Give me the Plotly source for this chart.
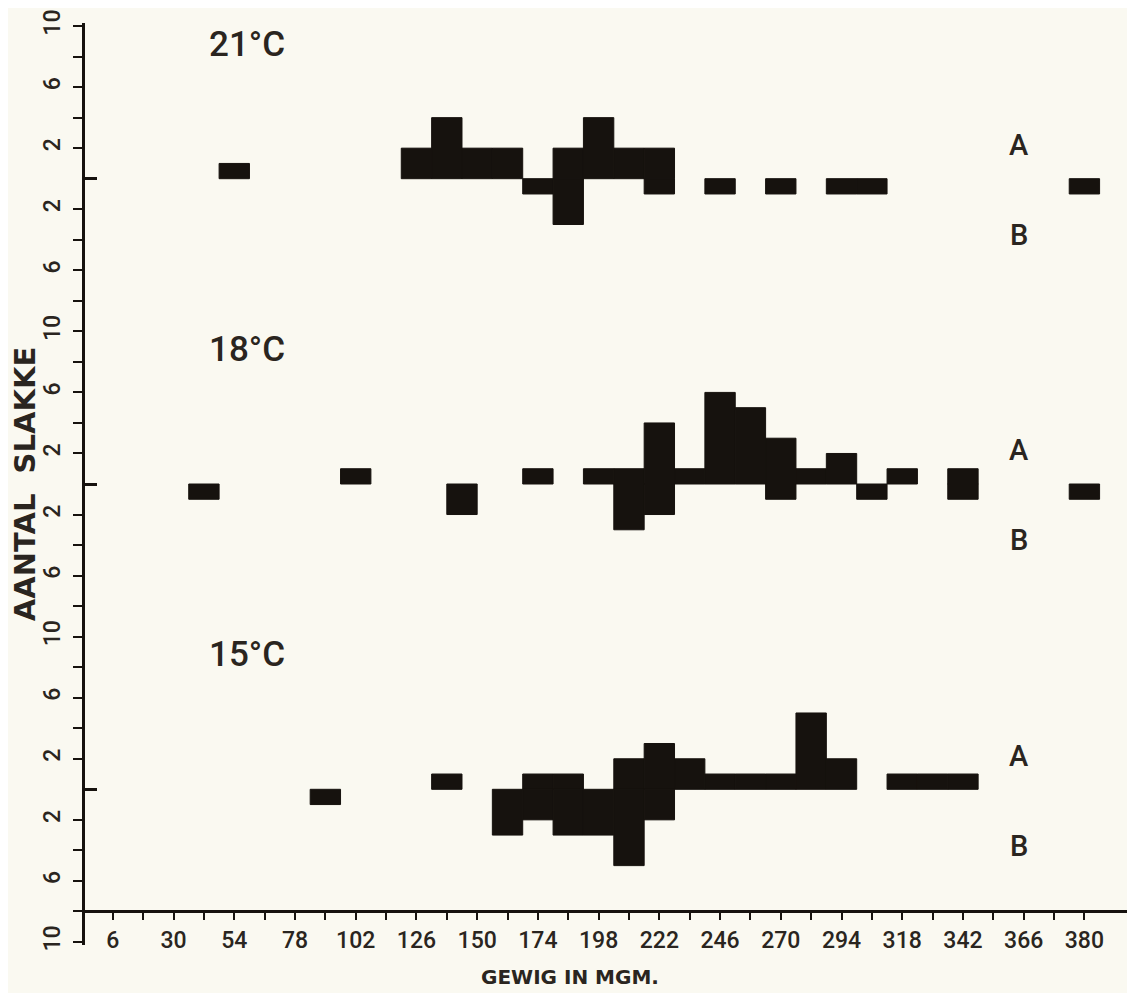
import plotly.graph_objects as go

# ---- data ----
# weight class centres (mg) and counts of snails above (A) and below (B) the baseline
t21_x = [54, 126, 138, 150, 162, 174, 186, 198, 210, 222, 246, 270, 294, 306, 390]
t21_A = [1, 2, 4, 2, 2, 0, 2, 4, 2, 2, 0, 0, 0, 0, 0]
t21_B = [0, 0, 0, 0, 0, 1, 3, 0, 0, 1, 1, 1, 1, 1, 1]

t18_x = [42, 102, 144, 174, 198, 210, 222, 234, 246, 258, 270, 282, 294, 306, 318, 342, 390]
t18_A = [0, 1, 0, 1, 1, 1, 4, 1, 6, 5, 3, 1, 2, 0, 1, 1, 0]
t18_B = [1, 0, 2, 0, 0, 3, 2, 0, 0, 0, 1, 0, 0, 1, 0, 1, 1]

t15_x = [90, 138, 162, 174, 186, 198, 210, 222, 234, 246, 258, 270, 282, 294, 318, 330, 342]
t15_A = [0, 1, 0, 1, 1, 0, 2, 3, 2, 1, 1, 1, 5, 2, 1, 1, 1]
t15_B = [1, 0, 3, 2, 3, 3, 5, 2, 0, 0, 0, 0, 0, 0, 0, 0, 0]

panel_names = ["21°C", "18°C", "15°C"]
panel_baselines = [40, 20, 0]

x_tick_vals = [6 + 12 * k for k in range(33)]
x_label_vals = [6, 30, 54, 78, 102, 126, 150, 174, 198, 222, 246, 270, 294, 318, 342, 366, 390]
x_label_text = ["6", "30", "54", "78", "102", "126", "150", "174", "198", "222",
                "246", "270", "294", "318", "342", "366", "380"]

y_label_levels = [2, 6, 10]

BG = "#FAF9F1"
INK = "#16120E"
TXT = "#2A2520"
FONT = "Roboto"
TITLE_FONT = "DejaVu Sans"
BIN_W = 12

fig = go.Figure()

panels = [(t21_x, t21_A, t21_B), (t18_x, t18_A, t18_B), (t15_x, t15_A, t15_B)]
for (xs, A, B), base, name in zip(panels, panel_baselines, panel_names):
    ax = [x for x, a in zip(xs, A) if a > 0]
    ay = [a for a in A if a > 0]
    bx = [x for x, b in zip(xs, B) if b > 0]
    by = [-b for b in B if b > 0]
    fig.add_trace(go.Bar(x=ax, y=ay, base=base, width=BIN_W, name=name + " A",
                         marker=dict(color=INK, line=dict(width=1, color=INK)), showlegend=False))
    fig.add_trace(go.Bar(x=bx, y=by, base=base, width=BIN_W, name=name + " B",
                         marker=dict(color=INK, line=dict(width=1, color=INK)), showlegend=False))

# y ticks: every 2 units within each panel, baseline excluded
y_vals, y_text = [], []
for base in panel_baselines:
    for off in range(10, -11, -2):
        if off == 0:
            continue
        v = base + off
        if v in y_vals:
            continue
        y_vals.append(v)
        y_text.append(str(abs(off)) if abs(off) in y_label_levels else "")

x_text = [x_label_text[x_label_vals.index(v)] if v in x_label_vals else "" for v in x_tick_vals]

Y_MIN, Y_MAX = -10.2, 50.2
X_AXIS_AT = -8

annotations = []
for base, name in zip(panel_baselines, panel_names):
    annotations.append(dict(x=59, y=base + 8.8, xref="x", yref="y", text=name, showarrow=False,
                            font=dict(family=FONT, size=35, color=TXT, weight=500)))
    annotations.append(dict(x=364, y=base + 2.2, xref="x", yref="y", text="A", showarrow=False,
                            font=dict(family=FONT, size=29, color=TXT, weight=500)))
    annotations.append(dict(x=364, y=base - 3.7, xref="x", yref="y", text="B", showarrow=False,
                            font=dict(family=FONT, size=29, color=TXT, weight=500)))
annotations.append(dict(x=0.462, y=-0.035, xref="paper", yref="paper", text="GEWIG IN MGM.",
                        showarrow=False, yanchor="middle",
                        font=dict(family=TITLE_FONT, size=20, color=TXT, weight="bold")))

fig.update_layout(
    width=1127, height=985,
    margin=dict(l=77, r=0, t=15, b=48),
    paper_bgcolor=BG, plot_bgcolor=BG,
    barmode="overlay",
    showlegend=False,
    annotations=annotations,
    xaxis=dict(
        range=[-5, 410], anchor="free",
        position=(X_AXIS_AT - Y_MIN) / (Y_MAX - Y_MIN),
        tickmode="array", tickvals=x_tick_vals, ticktext=x_text,
        ticks="outside", ticklen=7, tickwidth=2, tickcolor=INK,
        showline=True, linecolor=INK, linewidth=3,
        showgrid=False, zeroline=False,
        ticklabeloverflow="allow",
        tickfont=dict(family=FONT, size=23, color=TXT, weight=500),
    ),
    yaxis=dict(
        range=[Y_MIN, Y_MAX], anchor="x",
        tickmode="array", tickvals=y_vals, ticktext=y_text,
        tickangle=-90,
        ticks="outside", ticklen=9, tickwidth=2, tickcolor=INK,
        ticklabelstandoff=4,
        ticklabeloverflow="allow",
        minor=dict(tickmode="array", tickvals=panel_baselines, ticks="inside",
                   ticklen=12, tickwidth=3, tickcolor=INK),
        showline=True, linecolor=INK, linewidth=3,
        showgrid=False, zeroline=False,
        tickfont=dict(family=FONT, size=23, color=TXT, weight=500),
        title=dict(text="AANTAL\u00a0 SLAKKE", standoff=4,
                   font=dict(family=TITLE_FONT, size=29, color=TXT, weight="bold")),
        automargin=False,
    ),
)

fig.write_html("out.html")
